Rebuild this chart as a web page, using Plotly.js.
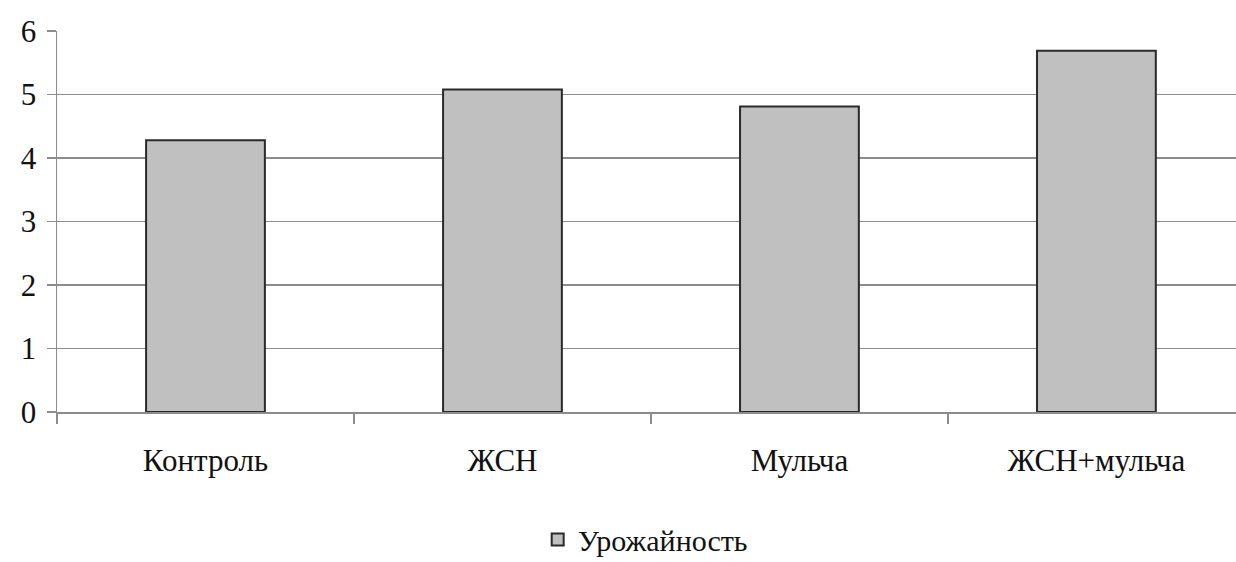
<!DOCTYPE html>
<html>
<head>
<meta charset="utf-8">
<script src="https://cdn.plot.ly/plotly-3.0.1.min.js"></script>
<style>html,body{margin:0;padding:0;background:#fff;}#chart{width:1236px;height:562px;}</style>
</head>
<body>
<div id="chart"></div>
<script>
const categories = ["Контроль", "ЖСН", "Мульча", "ЖСН+мульча"];
const yieldValues = [4.28, 5.08, 4.81, 5.69];
const seriesName = "Урожайность";
const yTicks = [0, 1, 2, 3, 4, 5, 6];

const font = {family: "Liberation Serif, Times New Roman, serif", size: 31, color: "#111"};
const legendFont = {family: "Liberation Serif, Times New Roman, serif", size: 30, color: "#111"};

Plotly.newPlot("chart", [{
  type: "bar",
  x: categories,
  y: yieldValues,
  name: seriesName,
  width: 0.4,
  marker: {color: "#c0c0c0", line: {color: "#2a2a2a", width: 2}},
  showlegend: true
}], {
  width: 1236,
  height: 562,
  margin: {l: 57, r: 0, t: 31, b: 150},
  paper_bgcolor: "#fff",
  plot_bgcolor: "#fff",
  font: font,
  xaxis: {
    range: [-0.5, 3.47],
    tickson: "boundaries",
    ticks: "outside",
    ticklen: 10,
    tickcolor: "#8c8c8c",
    tickwidth: 1.5,
    showline: true,
    linecolor: "#8c8c8c",
    linewidth: 1.5,
    showgrid: false,
    ticklabelstandoff: 20,
    tickfont: font,
    fixedrange: true
  },
  yaxis: {
    range: [0, 6],
    tickvals: yTicks,
    ticktext: yTicks.map(String),
    ticks: "outside",
    ticklen: 9,
    tickcolor: "#8c8c8c",
    tickwidth: 1.5,
    showline: true,
    linecolor: "#8c8c8c",
    linewidth: 1.5,
    showgrid: true,
    gridcolor: "#8c8c8c",
    gridwidth: 1.5,
    zeroline: false,
    ticklabelstandoff: 4,
    tickfont: font,
    fixedrange: true
  },
  showlegend: true,
  legend: {
    orientation: "h",
    x: 0.522,
    xanchor: "center",
    xref: "container",
    y: 0.04,
    yanchor: "middle",
    yref: "container",
    font: legendFont,
    itemwidth: 30,
    bgcolor: "rgba(0,0,0,0)"
  }
}, {displayModeBar: false, staticPlot: true});
</script>
</body>
</html>
